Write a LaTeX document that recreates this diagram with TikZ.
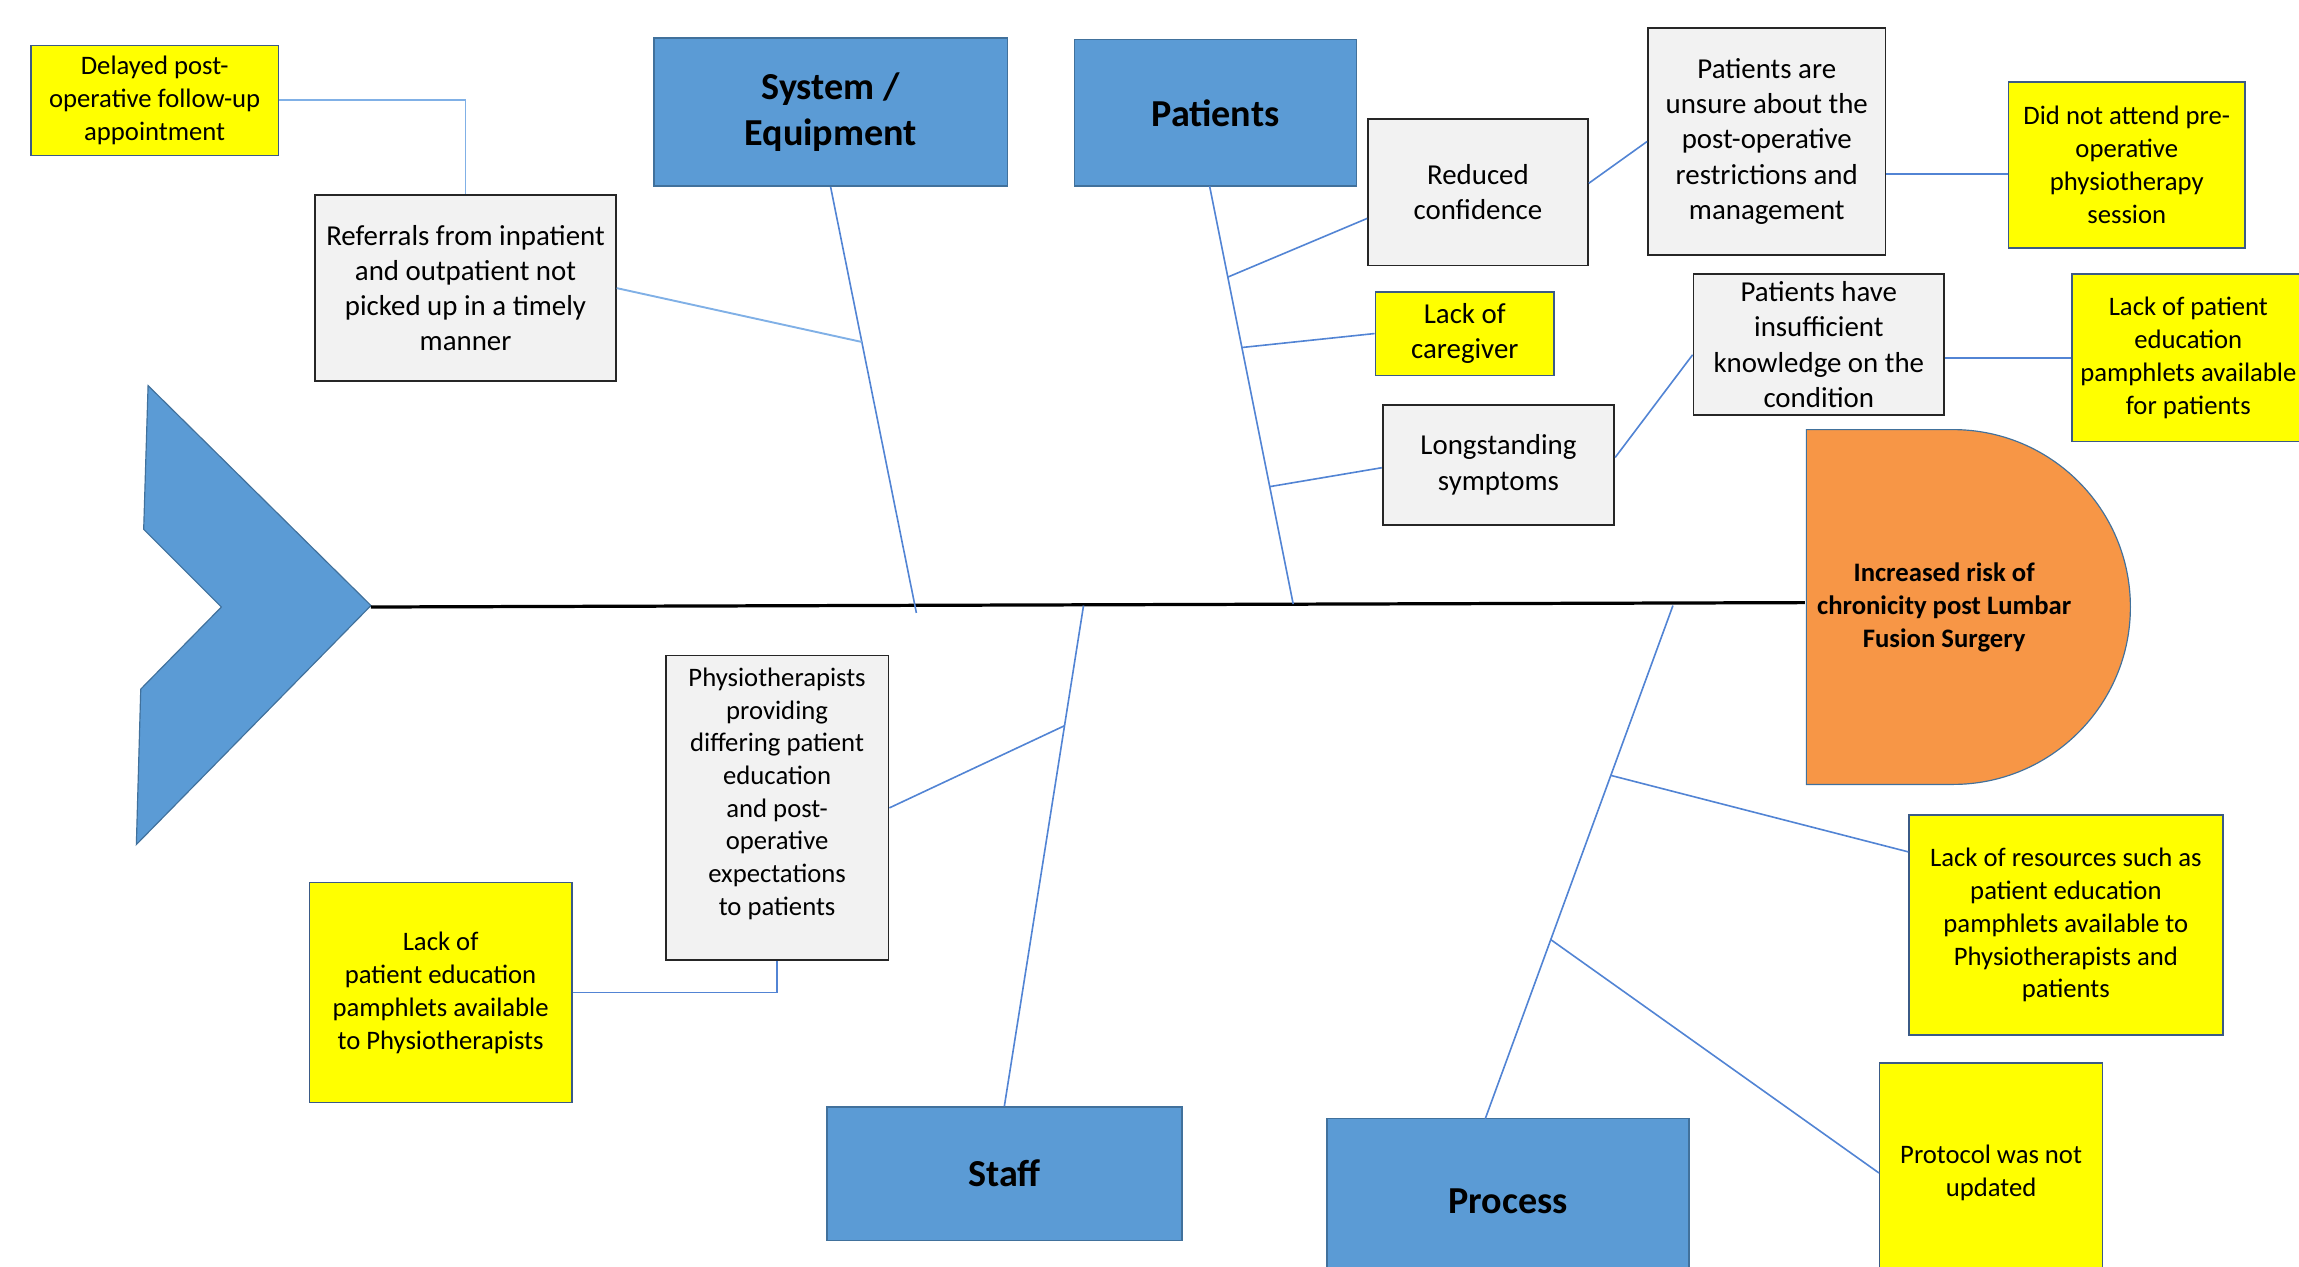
\documentclass[tikz,border=0pt]{standalone}
\usepackage{fontspec}
\setmainfont{Carlito}
\usetikzlibrary{calc}
\definecolor{catblue}{HTML}{5B9BD5}
\definecolor{catborder}{HTML}{41719C}
\definecolor{grayfill}{HTML}{F2F2F2}
\definecolor{yellowfill}{HTML}{FFFF00}
\definecolor{yellowborder}{HTML}{3B5A86}
\definecolor{headfill}{HTML}{F79646}
\definecolor{conncol}{RGB}{82,132,212}
\definecolor{connlight}{RGB}{128,176,230}
\tikzset{
  catbox/.style={draw=catborder, fill=catblue, line width=1pt, inner sep=0pt, align=center,
    font=\fontsize{26}{32}\selectfont\bfseries},
  graybox/.style={draw=black!85, fill=grayfill, line width=1.2pt, inner sep=0pt, align=center,
    font=\fontsize{19.7}{24}\selectfont},
  yelbox/.style={draw=yellowborder, fill=yellowfill, line width=1pt, inner sep=0pt, align=center,
    font=\fontsize{18.2}{22.4}\selectfont},
  conn/.style={draw=conncol, line width=1.1pt},
  connlt/.style={draw=connlight, line width=1.3pt},
  spine/.style={draw=black, line width=2.2pt},
}
\begin{document}
\begin{tikzpicture}[x=1pt,y=-1pt]
\useasboundingbox (0,0) rectangle (1568,864);

% fish tail
\fill[catblue, draw=catborder, line width=0.8pt]
  (101,263) -- (253,413) -- (93,576) -- (96,470) -- (151,414) -- (98,361) -- cycle;

% head
\fill[headfill, draw=catborder, line width=0.8pt]
  (1232,293) -- (1332,293) .. controls (1398.8,293) and (1453,347.2) .. (1453,414)
  .. controls (1453,480.8) and (1398.8,535) .. (1332,535) -- (1232,535) -- cycle;
\node[font=\fontsize{18.2}{22.5}\selectfont\bfseries, align=center, inner sep=0pt] (head) at (1326,414)
  {Increased risk of\\chronicity post Lumbar\\Fusion Surgery};

% key coordinates
\coordinate (tip) at (253,414);
\coordinate (headL) at (1231,411);
\coordinate (sysE) at (625,418);
\coordinate (patS) at (825,127);
\coordinate (patE) at (882,412);
\coordinate (stE) at (739,413);
\coordinate (prS) at (1013,763);
\coordinate (prE) at (1141,413);

% category boxes
\node[catbox, minimum width=241pt, minimum height=101pt] (sys) at (566.5,76.5) {System /\\Equipment};
\node[catbox, minimum width=192pt, minimum height=100pt] (pat) at (829,77) {Patients};
\node[catbox, minimum width=242pt, minimum height=91pt] (staff) at (685,800.5) {Staff};
\node[catbox, minimum width=247pt, minimum height=112pt] (proc) at (1028.5,819) {Process};

% cause boxes
\node[yelbox, minimum width=169pt, minimum height=75pt] (dl) at (105.5,68.5) {Delayed post-\\operative follow-up\\appointment};
\node[graybox, minimum width=205pt, minimum height=127pt] (ref) at (317.5,196.5) {Referrals from inpatient\\and outpatient not\\picked up in a timely\\manner};
\node[graybox, minimum width=150pt, minimum height=100pt] (rc) at (1008,131) {Reduced\\confidence};
\node[graybox, minimum width=162pt, minimum height=155pt] (un) at (1205,96.5) {Patients are\\unsure about the\\post-operative\\restrictions and\\management};
\node[yelbox, minimum width=161pt, minimum height=113pt] (dna) at (1450.5,112.5) {Did not attend pre-\\operative\\physiotherapy\\session};
\node[yelbox, minimum width=122pt, minimum height=57pt, font=\fontsize{19.7}{24}\selectfont] (lc) at (999,227.5) {Lack of\\caregiver};
\node[graybox, minimum width=158pt, minimum height=82pt] (ls) at (1022,317) {Longstanding\\symptoms};
\node[graybox, minimum width=171pt, minimum height=96pt] (pk) at (1240.5,235) {Patients have\\insufficient\\knowledge on the\\condition};
\node[yelbox, minimum width=159pt, minimum height=114pt] (lp) at (1492.5,244) {Lack of patient\\education\\pamphlets available\\for patients};
\node[graybox, minimum width=152pt, minimum height=208pt, font=\fontsize{18.2}{22.3}\selectfont] (phys) at (530,551) {Physiotherapists\\providing\\differing patient\\education\\and post-\\operative\\expectations\\to patients\\\mbox{}};
\node[yelbox, minimum width=179pt, minimum height=150pt] (lpp) at (300.5,677) {Lack of\\patient education\\pamphlets available\\to Physiotherapists};
\node[yelbox, minimum width=214pt, minimum height=150pt] (lr) at (1409,631) {Lack of resources such as\\patient education\\pamphlets available to\\Physiotherapists and\\patients};
\node[yelbox, minimum width=152pt, minimum height=150pt] (pr) at (1358,800) {Protocol was not\\updated};

% spine
\draw[spine] (tip) -- (headL);

% bones
\draw[conn] (sys.south) -- (sysE);
\draw[conn] (patS) -- (patE);
\draw[conn] (staff.north) -- (stE);
\draw[conn] (prS) -- (prE);

% joints
\coordinate (jref) at ($(sys.south)!0.364!(sysE)$);
\coordinate (jrc) at ($(patS)!0.2175!(patE)$);
\coordinate (jlc) at ($(patS)!0.386!(patE)$);
\coordinate (jls) at ($(patS)!0.719!(patE)$);
\coordinate (jph) at ($(stE)!0.24!(staff.north)$);
\coordinate (jlr) at ($(prE)!0.331!(prS)$);
\coordinate (jpr) at ($(prE)!0.651!(prS)$);

% branches
\draw[connlt] (dl.east) -| (ref.north);
\draw[connlt] (ref.east) -- (jref);
\draw[conn] (jrc) -- ([yshift=-18pt]rc.west);
\draw[conn] ([yshift=6pt]rc.east) -- (un.west);
\draw[conn] ([yshift=-22pt]un.east) -- ([yshift=-22pt]un.east -| dna.west);
\draw[conn] (jlc) -- (lc.west);
\draw[conn] (jls) -- ([yshift=-2pt]ls.west);
\draw[conn] ([yshift=5pt]ls.east) -- ([yshift=-7pt]pk.west);
\draw[conn] (pk.east |- lp.west) -- (lp.west);
\draw[conn] (phys.east) -- (jph);
\draw[conn] (lpp.east) -| (phys.south);
\draw[conn] (jlr) -- ([yshift=50pt]lr.west);
\draw[conn] (jpr) -- (pr.west);
\end{tikzpicture}
\end{document}
